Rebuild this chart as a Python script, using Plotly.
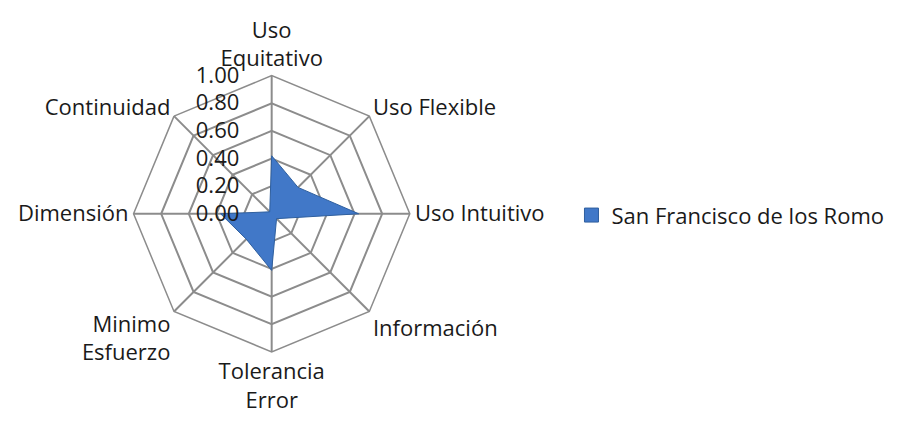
import plotly.graph_objects as go

categorias = ["Uso<br>Equitativo", "Uso Flexible", "Uso Intuitivo", "Información",
              "Tolerancia<br>Error", "Minimo<br>Esfuerzo", "Dimensión", "Continuidad"]
valores = [0.42, 0.27, 0.63, 0.05, 0.41, 0.26, 0.37, 0.02]
serie = "San Francisco de los Romo"
ticks = [0.0, 0.2, 0.4, 0.6, 0.8, 1.0]

FONT = "Open Sans"
GRID = "#8c8c8c"
AZUL = "#4178c8"
PAD = "\u00a0" * 5  # separa las etiquetas del eje vertical

fig = go.Figure()
fig.add_trace(go.Scatterpolar(
    r=valores + valores[:1],
    theta=categorias + categorias[:1],
    mode="lines",
    fill="toself",
    fillcolor=AZUL,
    line=dict(color="#2f5f9e", width=1),
    name=serie,
    showlegend=False,
))
# entrada de leyenda con cuadro
fig.add_trace(go.Scatterpolar(
    r=[None], theta=[categorias[0]],
    mode="markers",
    marker=dict(symbol="square", size=14, color=AZUL, line=dict(color="#2f5f9e", width=1)),
    name=serie,
))

fig.update_layout(
    width=903, height=423,
    margin=dict(l=0, r=0, t=0, b=0),
    paper_bgcolor="white",
    font=dict(family=FONT, size=22, color="#1a1a1a"),
    polar=dict(
        domain=dict(x=[0.139, 0.445], y=[0.187, 0.840]),
        bgcolor="white",
        gridshape="linear",
        angularaxis=dict(
            rotation=90, direction="clockwise",
            showline=True, linecolor=GRID, linewidth=1.5,
            gridcolor=GRID, gridwidth=1.5,
            ticks="", tickfont=dict(size=22, family=FONT),
        ),
        radialaxis=dict(
            range=[0, 1], angle=90, tickangle=90, side="counterclockwise",
            tickvals=ticks, ticktext=[f"{t:.2f}{PAD}" for t in ticks],
            showline=False, gridcolor=GRID, gridwidth=1.5,
            ticks="", tickfont=dict(size=22, family=FONT),
        ),
    ),
    showlegend=True,
    legend=dict(x=0.624, y=0.51, xanchor="left", yanchor="middle", itemwidth=30,
                font=dict(size=22, family=FONT), bgcolor="rgba(0,0,0,0)"),
)

fig.write_html("out.html")
